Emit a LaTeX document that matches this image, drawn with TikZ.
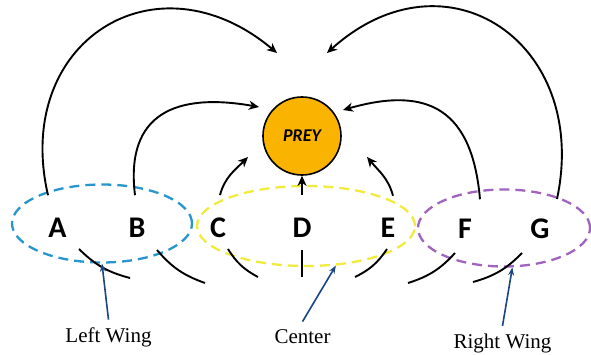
\documentclass[tikz,border=0pt]{standalone}
\usepackage{fontspec}
\setmainfont{Liberation Serif}
\setsansfont{Carlito}
\usepackage{xcolor}
\usetikzlibrary{shapes.geometric, arrows, arrows.meta}
\definecolor{leftblue}{RGB}{40,150,205}
\definecolor{centreyellow}{RGB}{240,235,60}
\definecolor{rightpurple}{RGB}{160,100,190}
\definecolor{preyorange}{RGB}{250,180,0}
\definecolor{pointerblue}{RGB}{25,70,130}
\tikzstyle{arrow} = [line width=1.9pt,->,>={Stealth[length=10pt,width=9pt,inset=3pt]}]
\tikzstyle{pointer} = [line width=1.6pt,->,>={Stealth[length=8pt,width=6pt]},draw=pointerblue]
\tikzstyle{tail} = [line width=1.9pt]

\begin{document}
\begin{tikzpicture}[
    x=1pt, y=1pt,
    player/.style={font=\sffamily\bfseries\fontsize{30}{32}\selectfont},
    group/.style={ellipse, dash pattern=on 10pt off 6pt, line width=2.3pt, inner sep=0pt},
    wing/.style={font=\fontsize{21}{23}\selectfont, anchor=base}
]
\useasboundingbox (0,0) rectangle (591,354);
% groups
\node[group, draw=leftblue, minimum width=180pt, minimum height=78pt] (leftwing) at (102,130.5) {};
\node[group, draw=centreyellow, minimum width=218pt, minimum height=80pt] (centre) at (306,128) {};
\node[group, draw=rightpurple, minimum width=172pt, minimum height=77pt] (rightwing) at (504,126) {};

\node[circle, draw, line width=1.6pt, fill=preyorange, minimum size=78pt, inner sep=0pt,
      font=\sffamily\bfseries\itshape\fontsize{18}{20}\selectfont] (prey) at (302,218) {PREY};

\node[player] (A) at (57.5,126.5) {A};
\node[player] (B) at (137,126.5) {B};
\node[player] (C) at (218,126.5) {C};
\node[player] (D) at (302,126) {D};
\node[player] (E) at (388,126) {E};
\node[player] (F) at (465,125) {F};
\node[player] (G) at (540,125) {G};

\coordinate (tipA) at (277,301);
\coordinate (tipB) at (259,247);
\coordinate (tipC) at (248,197);
\coordinate (tipE) at (367,197);
\coordinate (tipF) at (343,244);
\coordinate (tipG) at (327,301);

% runs to the prey
\draw[arrow] ([shift={(-9.5pt,19pt)}]A.north) to[out=103,in=140,looseness=1.5] (tipA);
\draw[arrow] ([shift={(-2pt,19pt)}]B.north) to[out=97,in=170,looseness=1.4] (tipB);
\draw[arrow] ([shift={(2pt,19pt)}]C.north) to[out=75,in=225] (tipC);
\draw[arrow] ([yshift=20pt]D.north) -- (prey.south);
\draw[arrow] ([shift={(5pt,19pt)}]E.north) to[out=105,in=-50] (tipE);
\draw[arrow] ([shift={(15pt,16.5pt)}]F.north) to[out=95,in=16,looseness=1.4] (tipF);
\draw[arrow] ([shift={(17pt,16.5pt)}]G.north) to[out=78,in=42,looseness=1.5] (tipG);

% tails
\draw[tail] (79,105) to[bend right=15] (130,76);
\draw[tail] (157,104) to[bend right=15] (205,71);
\draw[tail] (228,105) to[bend right=15] (258,77);
\draw[tail] (302,104) -- (302,77);
\draw[tail] (387,105) to[bend left=15] (355,77);
\draw[tail] (455,101) to[bend left=15] (408,71);
\draw[tail] (522,101) to[bend left=15] (473,72);

% labels
\node[wing] (lwlabel) at (108.5,12) {Left Wing};
\node[wing] (clabel) at (302.5,11) {Center};
\node[wing] (rwlabel) at (502.5,6) {Right Wing};
\draw[pointer] ([yshift=4pt]lwlabel.north) -- (leftwing.south);
\draw[pointer] ([yshift=4pt]clabel.north) -- (centre.-53);
\draw[pointer] ([yshift=4pt]rwlabel.north) -- (rightwing.-78);
\end{tikzpicture}
\end{document}
